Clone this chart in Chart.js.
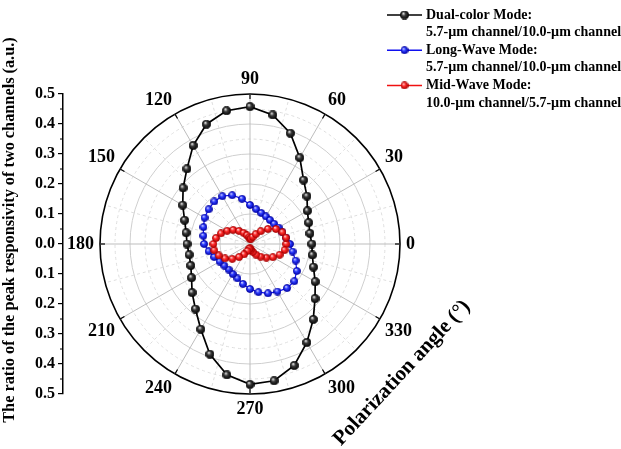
<!DOCTYPE html>
<html>
<head>
<meta charset="utf-8">
<script src="https://cdn.jsdelivr.net/npm/chart.js@4.4.0/dist/chart.umd.min.js"></script>
<style>
  html, body { margin: 0; padding: 0; background: #fff; }
  #wrap { width: 621px; height: 449px; }
</style>
</head>
<body>
<div id="wrap"><canvas id="c" width="621" height="449"></canvas></div>
<script>
// ---- data ----
const seriesNames = ['Dual-color Mode:', 'Long-Wave Mode:', 'Mid-Wave Mode:'];
const seriesSubtitles = ['5.7-\u00b5m channel/10.0-\u00b5m channel', '5.7-\u00b5m channel/10.0-\u00b5m channel', '10.0-\u00b5m channel/5.7-\u00b5m channel'];
const leftAxisTitle = 'The ratio of the peak responsivity of two channels (a.u.)';
const angleAxisTitle = 'Polarization angle (\u00b0)';

const angleTickLabels = [0, 30, 60, 90, 120, 150, 180, 210, 240, 270, 300, 330];

// polarization angles of the measurements (degrees)
const measuredAngles = [0, 10, 20, 30, 40, 50, 60, 70, 80, 90, 100, 110, 120, 130, 140, 150, 160, 170,
  180, 190, 200, 210, 220, 230, 240, 250, 260, 270, 280, 290, 300, 310, 320, 330, 340, 350];

const dualValues = [0.206, 0.203, 0.208, 0.221, 0.248, 0.278, 0.332, 0.393, 0.437, 0.458, 0.451, 0.425,
  0.379, 0.327, 0.291, 0.259, 0.232, 0.216, 0.210, 0.206, 0.210, 0.225, 0.252, 0.283,
  0.328, 0.391, 0.443, 0.468, 0.463, 0.431, 0.379, 0.328, 0.283, 0.251, 0.225, 0.211];
const longWaveValues = [0.133, 0.122, 0.115, 0.110, 0.105, 0.104, 0.106, 0.110, 0.118, 0.130, 0.153, 0.173,
  0.184, 0.185, 0.180, 0.175, 0.165, 0.158, 0.153, 0.140, 0.127, 0.117, 0.112, 0.111,
  0.115, 0.122, 0.135, 0.150, 0.163, 0.175, 0.183, 0.192, 0.193, 0.180, 0.162, 0.144];
const midWaveValues = [0.121, 0.122, 0.115, 0.100, 0.078, 0.056, 0.038, 0.025, 0.018, 0.018, 0.022, 0.031,
  0.043, 0.057, 0.073, 0.088, 0.103, 0.115, 0.122, 0.121, 0.111, 0.096, 0.077, 0.057,
  0.040, 0.025, 0.016, 0.014, 0.019, 0.028, 0.041, 0.055, 0.071, 0.088, 0.105, 0.117];

const seriesColors = ['#000000', '#1010f0', '#f01010'];

// ---- helpers ----
const SERIF = '"Liberation Serif", "Times New Roman", Times, serif';

// 5-degree slots (so the 15-degree guide lines exist); radar slots run clockwise,
// so they are listed 0, 355, 350, ... to read counter-clockwise from the right
const slotAngles = [0];
for (let a = 355; a > 0; a -= 5) slotAngles.push(a);

function valueAt(values, a) {
  const i = measuredAngles.indexOf(a);
  return i < 0 ? null : values[i];
}

// small shaded ball used as the point marker
function sphere(size, light, base, dark) {
  const c = document.createElement('canvas');
  c.width = c.height = size;
  const g = c.getContext('2d');
  const r = size / 2;
  const grad = g.createRadialGradient(r * 0.72, r * 0.62, r * 0.05, r, r, r);
  grad.addColorStop(0, light);
  grad.addColorStop(0.4, base);
  grad.addColorStop(1, dark);
  g.fillStyle = grad;
  g.beginPath();
  g.arc(r, r, r - 0.4, 0, Math.PI * 2);
  g.fill();
  g.lineWidth = 0.7;
  g.strokeStyle = dark;
  g.stroke();
  return c;
}

const markers = [
  sphere(9, '#f2f2f2', '#3a3a3a', '#000000'),
  sphere(8, '#dcdcff', '#2a3aff', '#0000a0'),
  sphere(8, '#ffdcdc', '#ff2a2a', '#a80000')
];

const isMajor = v => Math.abs(v * 10 - Math.round(v * 10)) < 1e-6;

// ---- decorations drawn on top of the library's scales ----
const decorPlugin = {
  id: 'decor',
  afterDraw(chart) {
    const ctx = chart.ctx;
    const r = chart.scales.r;
    const y = chart.scales.y;
    ctx.save();

    // inward ticks on the outer ring
    ctx.strokeStyle = '#000';
    ctx.lineWidth = 1.2;
    angleTickLabels.forEach(a => {
      const idx = slotAngles.indexOf(a);
      const p1 = r.getPointPosition(idx, r.drawingArea);
      const p2 = r.getPointPosition(idx, r.drawingArea - 5);
      ctx.beginPath();
      ctx.moveTo(p1.x, p1.y);
      ctx.lineTo(p2.x, p2.y);
      ctx.stroke();
    });

    // angle labels
    ctx.fillStyle = '#000';
    ctx.font = 'bold 18px ' + SERIF;
    angleTickLabels.forEach(a => {
      const idx = slotAngles.indexOf(a);
      const p = r.getPointPosition(idx, r.drawingArea + 6);
      ctx.textAlign = (a === 90 || a === 270) ? 'center' : ((a < 90 || a > 270) ? 'left' : 'right');
      ctx.textBaseline = (a === 0 || a === 180) ? 'middle' : (a < 180 ? 'bottom' : 'top');
      ctx.fillText(String(a), p.x, p.y);
    });

    // minor ticks on the left value axis
    ctx.lineWidth = 1;
    const axisX = y.right;
    for (let k = 0; k < 10; k++) {
      const v = -0.45 + k * 0.1;
      const py = y.getPixelForValue(v);
      ctx.beginPath();
      ctx.moveTo(axisX, py);
      ctx.lineTo(axisX - 3, py);
      ctx.stroke();
    }

    // value-axis title
    ctx.save();
    ctx.translate(10, 230);
    ctx.rotate(-Math.PI / 2);
    ctx.font = 'bold 16.3px ' + SERIF;
    ctx.textAlign = 'center';
    ctx.textBaseline = 'middle';
    ctx.fillText(leftAxisTitle, 0, 0);
    ctx.restore();

    // legend
    const lx0 = 387, lx1 = 422, tx = 426;
    ctx.font = 'bold 14px ' + SERIF;
    ctx.textAlign = 'left';
    ctx.textBaseline = 'middle';
    chart.data.datasets.forEach((ds, i) => {
      const rowY = 15 + i * 35.2;
      ctx.strokeStyle = ds.borderColor;
      ctx.lineWidth = 1.5;
      ctx.beginPath();
      ctx.moveTo(lx0, rowY);
      ctx.lineTo(lx1, rowY);
      ctx.stroke();
      const m = ds.pointStyle;
      ctx.drawImage(m, (lx0 + lx1) / 2 - m.width / 2, rowY - m.height / 2);
      ctx.fillStyle = '#000';
      ctx.fillText(seriesNames[i], tx, rowY);
      ctx.fillText(seriesSubtitles[i], tx, rowY + 17.6);
    });

    // rotated angle-axis title
    ctx.translate(402, 373);
    ctx.rotate(-47 * Math.PI / 180);
    ctx.font = 'bold 21px ' + SERIF;
    ctx.textAlign = 'center';
    ctx.textBaseline = 'middle';
    ctx.fillText(angleAxisTitle, 0, 0);

    ctx.restore();
  }
};

const datasets = [dualValues, longWaveValues, midWaveValues].map((values, i) => ({
  label: seriesNames[i],
  data: slotAngles.map(a => valueAt(values, a)),
  borderColor: seriesColors[i],
  backgroundColor: 'transparent',
  borderWidth: i === 0 ? 1.7 : 1.2,
  fill: false,
  spanGaps: true,
  tension: 0,
  pointStyle: markers[i],
  pointRadius: 4,
  order: 2 - i
}));

new Chart(document.getElementById('c'), {
  type: 'radar',
  data: { labels: slotAngles.map(String), datasets },
  options: {
    responsive: false,
    animation: false,
    devicePixelRatio: 1,
    layout: { padding: { top: 94, bottom: 55, left: 0, right: 184 } },
    plugins: { legend: { display: false }, tooltip: { enabled: false } },
    scales: {
      r: {
        min: 0,
        max: 0.5,
        startAngle: 90,
        ticks: { display: false, stepSize: 0.05 },
        pointLabels: { display: false },
        grid: {
          circular: true,
          color: ctx => Math.abs(ctx.tick.value - 0.5) < 1e-6 ? '#000' : (isMajor(ctx.tick.value) ? '#cfcfcf' : '#dedede'),
          lineWidth: ctx => Math.abs(ctx.tick.value - 0.5) < 1e-6 ? 1.6 : 1
        },
        border: {
          dash: ctx => isMajor(ctx.tick.value) ? [] : [3, 3]
        },
        angleLines: {
          color: ctx => slotAngles[ctx.index] % 30 === 0 ? '#bdbdbd' : '#dedede',
          lineWidth: ctx => slotAngles[ctx.index] % 15 === 0 ? 1 : 0,
          borderDash: ctx => slotAngles[ctx.index] % 30 === 0 ? [] : [3, 3]
        }
      },
      y: {
        type: 'linear',
        position: 'left',
        min: -0.5,
        max: 0.5,
        ticks: {
          stepSize: 0.1,
          padding: 3,
          color: '#000',
          font: { family: SERIF, size: 16, weight: 'bold' },
          callback: v => Math.abs(v).toFixed(1)
        },
        grid: { drawOnChartArea: false, tickLength: 5, color: '#000', lineWidth: 1.2 },
        border: { color: '#000', width: 1.5 },
        afterFit: s => { s.width = 63; }
      }
    }
  },
  plugins: [decorPlugin]
});
</script>
</body>
</html>
